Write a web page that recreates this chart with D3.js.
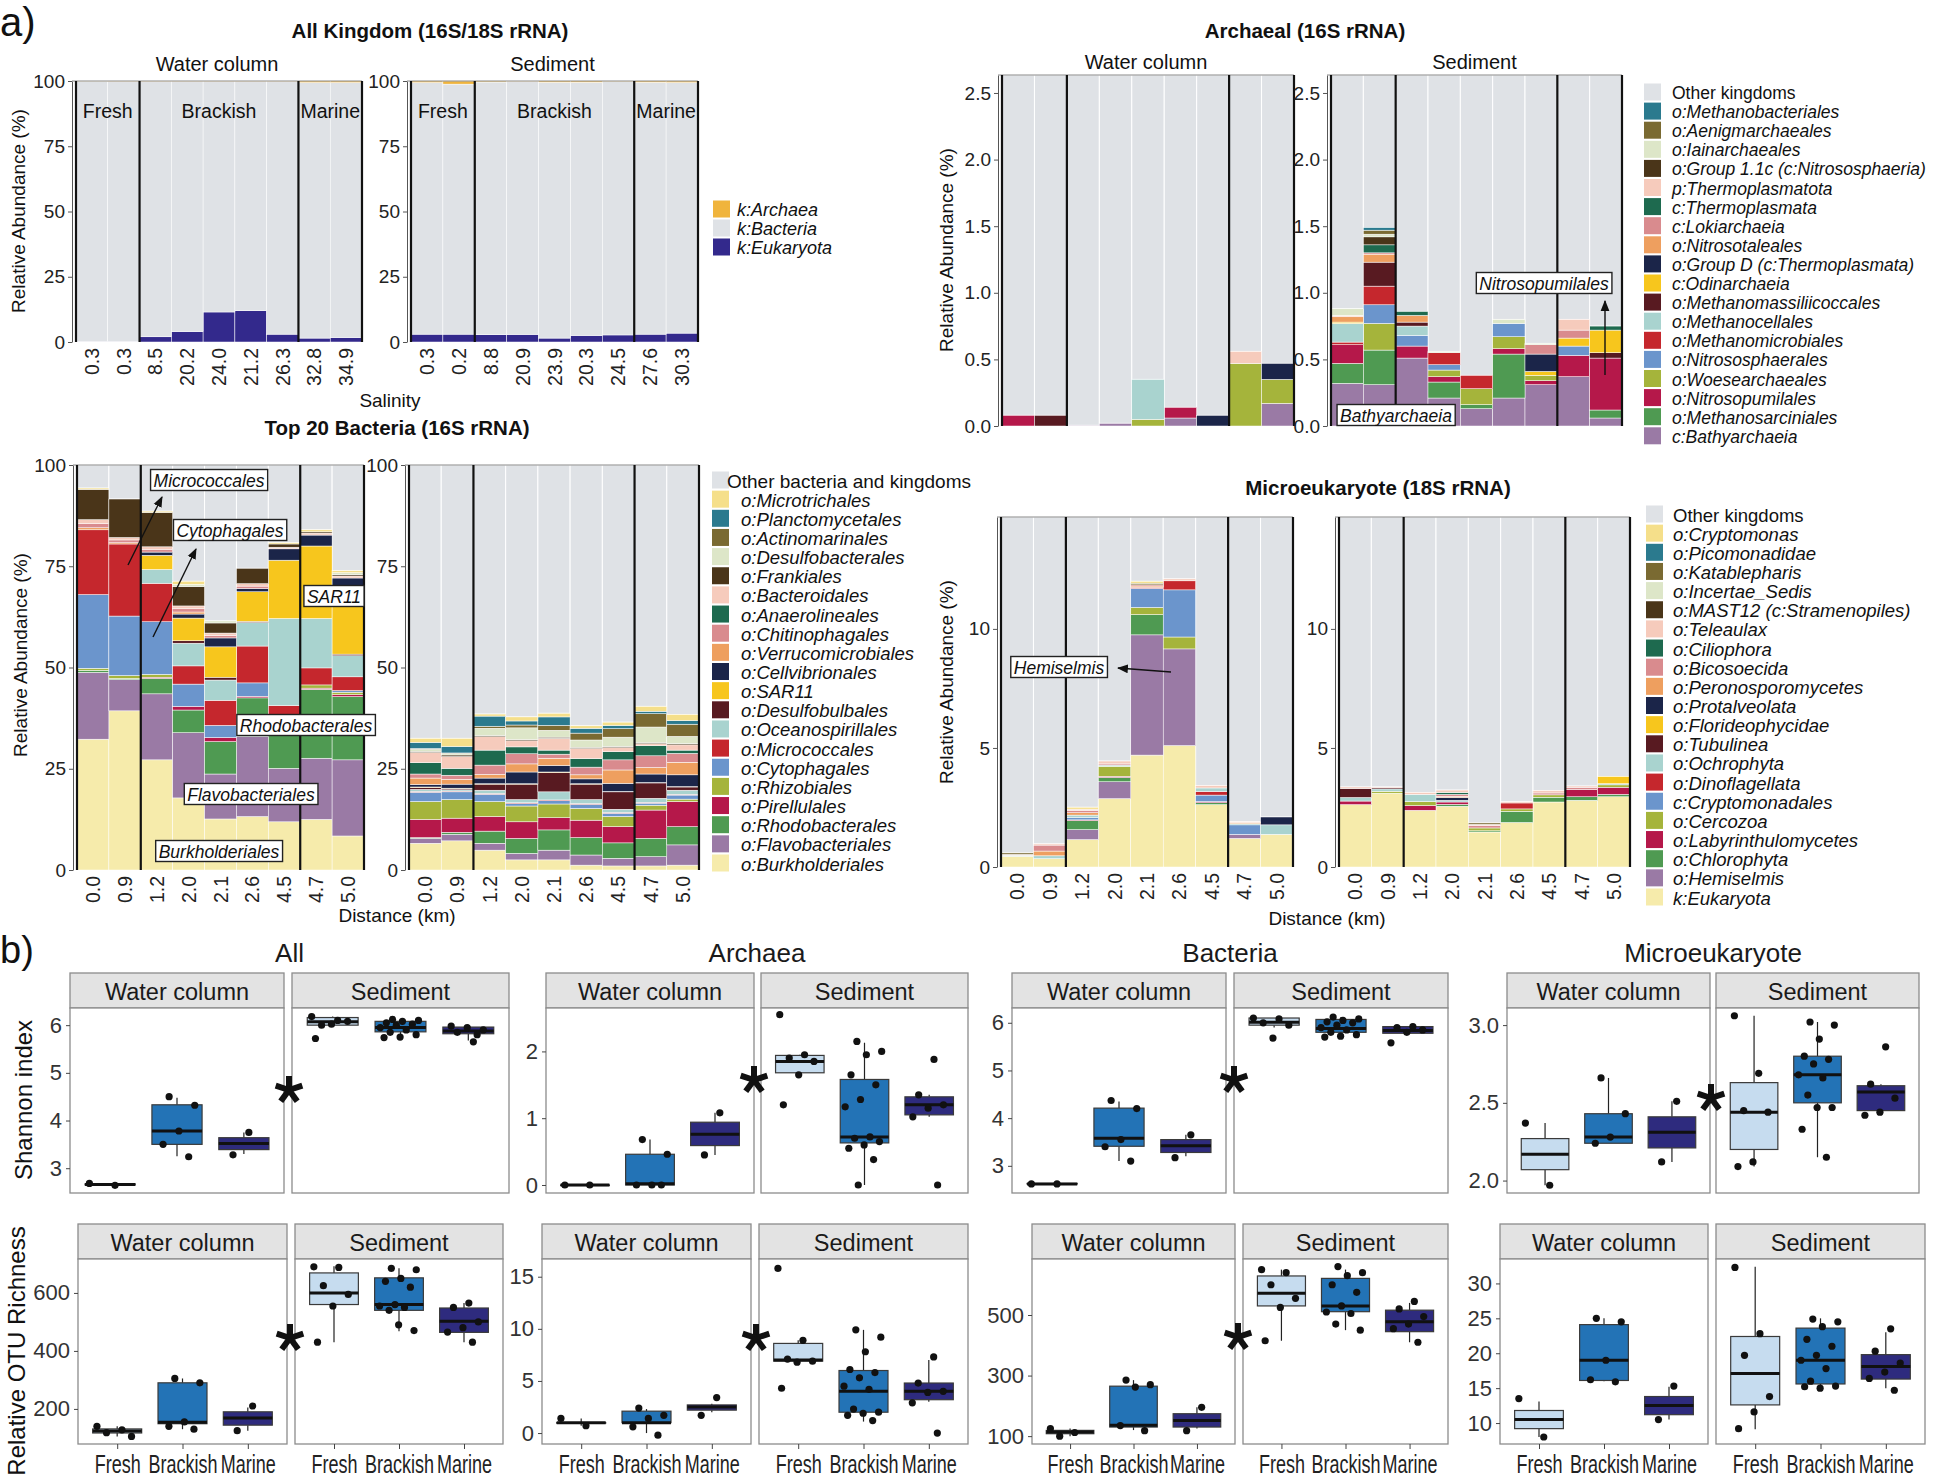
<!DOCTYPE html>
<html><head><meta charset="utf-8">
<script src="https://cdn.jsdelivr.net/npm/d3@7"></script>
<style>
body{margin:0;background:#fff;}
svg{display:block;font-family:"Liberation Sans",Arial,Helvetica,sans-serif;}
</style></head>
<body>
<svg id="chart" width="1946" height="1484"></svg>
<script>
// ================= DATA =================
const salinityWater = ["0.3","0.3","8.5","20.2","24.0","21.2","26.3","32.8","34.9"];
const salinitySediment = ["0.3","0.2","8.8","20.9","23.9","20.3","24.5","27.6","30.3"];
const distanceLabels = ["0.0","0.9","1.2","2.0","2.1","2.6","4.5","4.7","5.0"];
const salinityGroups = ["Fresh","Brackish","Marine"];
const groupBreaks = [0,2,7,9];

// --- All kingdom (rows = taxa in legend order, cols = samples) ---
const kingdomTaxa = ["k:Archaea","k:Bacteria","k:Eukaryota"];
const kingdomColors = ["#f0b43c","#dfe2e6","#33298c"];
const kingdomWater = [
  [0.1,0.3,0.3,0.3,0.3,0.3,0.3,0.6,0.6],
  [99.7,99.5,97.7,95.7,88.2,87.7,96.7,97.9,97.7],
  [0.2,0.2,2.0,4.0,11.5,12.0,3.0,1.5,1.7]
];
const kingdomSediment = [
  [0.6,1.2,0.4,0.3,0.5,0.5,0.2,0.5,0.6],
  [96.4,95.8,96.8,96.8,98.0,97.0,97.1,96.5,96.0],
  [3.0,3.0,2.8,2.9,1.5,2.5,2.7,3.0,3.4]
];

// --- Archaeal (16S) ---
const archaeaTaxa = ["o:Methanobacteriales","o:Aenigmarchaeales","o:Iainarchaeales","o:Group 1.1c (c:Nitrososphaeria)","p:Thermoplasmatota","c:Thermoplasmata","c:Lokiarchaeia","o:Nitrosotaleales","o:Group D (c:Thermoplasmata)","c:Odinarchaeia","o:Methanomassiliicoccales","o:Methanocellales","o:Methanomicrobiales","o:Nitrososphaerales","o:Woesearchaeales","o:Nitrosopumilales","o:Methanosarciniales","c:Bathyarchaeia"];
const archaeaColors = ["#2b7a8e","#7a6a32","#dde6c8","#4a3519","#f6cbbc","#1e6a4f","#d98b8e","#ee9f5f","#1b2549","#f7c61d","#581a21","#a9d3cf","#c5272d","#6b95cc","#a5b43b","#b5184a","#4f9a52","#9a7aa5"];
const archaeaWater = [
  [0,0,0,0,0,0,0,0,0],
  [0,0,0,0,0,0,0,0,0],
  [0,0,0,0,0,0,0,0,0],
  [0,0,0,0,0,0,0,0,0],
  [0,0,0,0,0,0,0,0.09,0],
  [0,0,0,0,0,0,0,0,0],
  [0,0,0,0,0,0,0,0,0],
  [0,0,0,0,0,0,0,0,0],
  [0,0,0,0,0,0,0.08,0,0.12],
  [0,0,0,0,0,0,0,0,0],
  [0,0.08,0,0,0,0,0,0,0],
  [0,0,0,0,0.30,0,0,0,0],
  [0,0,0,0,0,0,0,0,0],
  [0,0,0,0,0,0,0,0,0],
  [0,0,0,0,0.05,0,0,0.47,0.18],
  [0.08,0,0,0,0,0.08,0,0,0],
  [0,0,0,0,0,0,0,0,0],
  [0,0,0.005,0.02,0,0.06,0,0,0.17]
];
const archaeaSediment = [
  [0,0.02,0,0,0,0,0,0,0],
  [0,0.03,0,0,0,0,0,0,0],
  [0.05,0.02,0,0.01,0,0.03,0.01,0,0],
  [0,0.06,0,0,0,0,0,0,0],
  [0.01,0,0,0,0,0,0,0.08,0],
  [0,0.06,0.03,0,0,0,0,0,0.03],
  [0,0.01,0,0,0,0,0.07,0.06,0],
  [0.04,0.06,0.05,0,0,0,0,0,0],
  [0,0,0,0,0,0,0.13,0,0],
  [0.01,0,0,0,0,0,0.03,0.06,0.17],
  [0,0.18,0.03,0,0,0,0,0,0.04],
  [0.14,0,0.07,0,0,0,0,0,0],
  [0.02,0.14,0,0.09,0.10,0,0,0,0],
  [0,0.14,0.08,0.04,0,0.10,0,0.07,0],
  [0,0.20,0,0.05,0.12,0.09,0.04,0,0],
  [0.14,0,0.09,0.04,0,0.04,0.03,0.16,0.39],
  [0.15,0.26,0,0.12,0.03,0.33,0,0,0.06],
  [0.32,0.31,0.51,0.21,0.13,0.21,0.31,0.37,0.06]
];

// --- Top 20 bacteria (16S) ---
const bacteriaTaxa = ["o:Microtrichales","o:Planctomycetales","o:Actinomarinales","o:Desulfobacterales","o:Frankiales","o:Bacteroidales","o:Anaerolineales","o:Chitinophagales","o:Verrucomicrobiales","o:Cellvibrionales","o:SAR11","o:Desulfobulbales","o:Oceanospirillales","o:Micrococcales","o:Cytophagales","o:Rhizobiales","o:Pirellulales","o:Rhodobacterales","o:Flavobacteriales","o:Burkholderiales"];
const bacteriaColors = ["#f5df8a","#2b7a8e","#7a6a32","#dde6c8","#4a3519","#f6cbbc","#1e6a4f","#d98b8e","#ee9f5f","#1b2549","#f7c61d","#581a21","#a9d3cf","#c5272d","#6b95cc","#a5b43b","#b5184a","#4f9a52","#9a7aa5","#f6ebab"];
const bacteriaWater = [
  [0.3,0,0.3,0.8,0,0,0.3,0.5,0.5],
  [0,0,0,0,0,0,0,0,0],
  [0,0,0,0,0,0,0,0,0],
  [0,0,0,0.5,0.5,0,0,0,0.5],
  [7.5,9.5,8.5,4.8,2.5,3.8,0.8,0.3,0.3],
  [1.0,0.6,0.6,0.7,0.6,0.6,0.4,0.5,0.5],
  [0,0,0,0,0,0,0,0,0],
  [1.0,0.7,0.7,0.8,0.6,0.6,0,0,0],
  [0.5,0.3,0,0.5,0,0,0,0,0],
  [0,0,0.8,1.0,2.2,0.8,2.8,2.7,1.8],
  [0,0,3.5,5.6,7.5,7.3,14.4,17.9,17.0],
  [0,0,0,0.6,0.7,0.3,0,0,0.4],
  [0,0,3.4,5.6,5.0,5.8,21.5,12.2,5.2],
  [16.0,17.8,9.5,4.5,6.2,9.1,2.4,4.2,3.4],
  [18.2,14.7,13.0,5.5,3.0,3.3,0,0,0.4],
  [0.5,0.7,0.7,0,0,0,0,0.8,0.6],
  [0,0,0.3,0.9,1.0,0.4,0,0.3,0.5],
  [0.5,0.3,3.8,5.6,8.0,9.5,13.1,17.0,15.6],
  [16.5,7.7,16.3,16.1,11.1,19.8,13.2,15.1,18.8],
  [32.3,39.3,27.2,17.8,12.6,13.2,11.9,12.5,8.4]
];
const bacteriaSediment = [
  [1.0,2.0,0.5,1.0,0.9,0.6,0.8,1.2,1.5],
  [1.5,1.6,2.5,1.0,2.1,1.2,0.8,0.6,0.9],
  [0.2,0.2,0.5,0.7,1.2,1.7,2.1,3.3,3.0],
  [0.5,0.3,1.8,2.9,1.7,1.8,2.3,3.8,1.8],
  [0.3,0.4,0.3,0.3,0.3,0.3,0.3,0.3,0.3],
  [2.5,2.9,3.3,1.5,2.9,2.5,1.0,0.5,1.3],
  [2.8,1.7,3.7,1.7,1.0,2.1,2.0,2.5,0.8],
  [1.0,1.0,2.3,2.5,1.0,1.9,2.5,2.9,2.2],
  [1.6,1.2,0.9,2.0,1.8,1.0,3.3,1.6,3.1],
  [0.6,1.0,1.4,2.9,1.6,1.2,2.0,2.1,2.9],
  [0.1,0.1,0.1,0.1,0.1,0.1,0.1,0.1,0.1],
  [0.5,0.3,1.5,3.8,4.8,3.8,4.3,3.8,0.8],
  [0.5,0.3,0.8,0.8,2.0,1.0,0.8,1.0,1.0],
  [0.2,0.2,0.2,0.2,0.2,0.2,0.2,0.2,0.2],
  [2.3,1.9,1.8,0.6,0.8,1.0,0.8,0.5,1.0],
  [4.4,4.6,3.7,3.9,3.4,2.9,2.5,1.2,0.6],
  [4.5,3.5,3.6,4.1,3.0,4.3,4.0,7.0,6.2],
  [0.2,0.5,3.0,3.7,5.0,4.3,3.8,4.5,4.5],
  [1.2,1.6,1.7,1.6,2.4,2.5,1.9,2.3,5.0],
  [6.6,7.2,4.9,2.5,2.5,1.2,1.0,1.0,1.2]
];

// --- Microeukaryote (18S) ---
const microTaxa = ["o:Cryptomonas","o:Picomonadidae","o:Katablepharis","o:Incertae_Sedis","o:MAST12 (c:Stramenopiles)","o:Teleaulax","o:Ciliophora","o:Bicosoecida","o:Peronosporomycetes","o:Protalveolata","o:Florideophycidae","o:Tubulinea","o:Ochrophyta","o:Dinoflagellata","c:Cryptomonadales","o:Cercozoa","o:Labyrinthulomycetes","o:Chlorophyta","o:Hemiselmis","k:Eukaryota"];
const microColors = bacteriaColors.slice();
const microWater = [
  [0,0,0.08,0,0.08,0,0,0,0],
  [0,0,0,0,0,0,0,0,0],
  [0.06,0,0,0,0.07,0,0,0,0],
  [0,0,0,0,0,0,0,0,0],
  [0,0,0,0,0,0,0,0,0],
  [0.04,0.05,0.05,0.12,0,0.08,0.1,0.03,0],
  [0,0,0,0,0,0,0,0,0],
  [0,0.25,0.1,0.05,0.05,0,0,0,0],
  [0,0.2,0.1,0,0.05,0,0,0.05,0],
  [0,0,0,0,0,0,0,0,0.33],
  [0,0,0,0,0,0,0,0,0],
  [0,0,0,0,0,0,0,0,0],
  [0.04,0.12,0.1,0.05,0,0,0.15,0.05,0.4],
  [0,0,0,0,0.05,0.38,0.15,0,0],
  [0,0,0.1,0,0.8,1.98,0.27,0.4,0],
  [0,0,0,0.42,0.3,0.5,0,0,0],
  [0,0,0.03,0.05,0,0,0.05,0,0],
  [0,0,0.38,0.18,0.85,0,0.08,0,0],
  [0,0,0.42,0.71,5.05,4.06,0,0.17,0],
  [0.45,0.35,1.15,2.87,4.7,5.1,2.62,1.2,1.37]
];
const microSediment = [
  [0,0,0,0,0,0,0,0,0],
  [0,0,0,0,0,0,0,0,0],
  [0,0,0,0,0.06,0,0,0,0],
  [0,0,0,0,0,0,0,0,0],
  [0,0,0,0,0,0,0,0,0],
  [0.06,0.03,0.08,0.1,0.05,0.05,0.1,0.05,0],
  [0,0,0,0.08,0,0,0,0,0],
  [0,0,0,0.08,0.1,0,0.08,0.1,0],
  [0,0,0,0.05,0,0,0,0,0],
  [0,0,0,0.12,0,0,0,0,0],
  [0,0,0,0,0,0,0,0,0.3],
  [0.38,0.05,0,0,0,0,0,0,0],
  [0.15,0.1,0.3,0.07,0,0,0,0,0.05],
  [0,0,0,0,0,0.25,0,0,0],
  [0,0,0,0,0,0,0,0,0],
  [0,0.08,0.17,0,0.12,0.1,0.1,0,0.1],
  [0.15,0,0.2,0.1,0,0,0,0.3,0.3],
  [0,0,0,0.08,0.05,0.47,0.2,0.15,0.1],
  [0,0,0,0,0,0,0,0,0],
  [2.62,3.1,2.38,2.55,1.47,1.87,2.73,2.8,2.95]
];
const otherColor = "#dfe2e6";

// --- Panel b: boxplot stats [lower whisker, q1, median, q3, upper whisker] per Fresh/Brackish/Marine ---
const shannonAllWater = [[2.64,2.65,2.66,2.67,2.68],[3.25,3.5,3.78,4.33,4.48],[3.3,3.39,3.52,3.64,3.75]];
const shannonAllWaterPts = [[2.68,2.64],[4.5,4.32,3.78,3.5,3.24],[3.75,3.28]];
const shannonAllSed = [[6.0,6.0,6.07,6.16,6.18],[5.74,5.86,5.95,6.08,6.12],[5.68,5.82,5.88,5.96,6.0]];
const shannonAllSedPts = [[6.18,6.1,6.0,6.08,6.02,5.72],[6.12,6.1,6.08,6.05,6.02,6.0,5.95,5.9,5.85,5.8,5.75,5.74],[5.65,5.85,5.9,5.95,5.98,5.8]];
const shannonArchWater = [[0,0,0,0,0],[0,0,0.02,0.46,0.68],[0.45,0.59,0.76,0.94,1.08]];
const shannonArchWaterPts = [[0,0],[0.68,0.46,0,0,0],[1.08,0.45]];
const shannonArchSed = [[1.65,1.68,1.85,1.94,1.95],[0,0.63,0.72,1.58,2.13],[1.02,1.05,1.2,1.32,1.35]];
const shannonArchSedPts = [[2.55,1.95,1.9,1.85,1.65,1.2],[2.15,2.0,1.95,1.65,1.5,1.28,1.17,0.72,0.7,0.65,0.6,0.55,0.38,0],[1.88,1.35,1.2,1.15,1.02,0]];
const shannonBactWater = [[2.61,2.62,2.62,2.63,2.63],[3.1,3.41,3.58,4.21,4.35],[3.2,3.28,3.42,3.55,3.65]];
const shannonBactWaterPts = [[2.62,2.62],[4.37,4.2,3.55,3.4,3.1],[3.65,3.17]];
const shannonBactSed = [[5.9,5.95,6.01,6.1,6.1],[5.7,5.8,5.88,6.07,6.12],[5.78,5.78,5.84,5.92,5.92]];
const shannonBactSedPts = [[6.1,6.08,6.0,5.95,5.68],[6.12,6.08,6.05,6.02,6.0,5.95,5.9,5.85,5.8,5.75,5.72,5.7],[5.92,5.9,5.85,5.8,5.58]];
const shannonEukWater = [[1.97,2.07,2.17,2.27,2.37],[2.24,2.24,2.28,2.43,2.66],[2.12,2.21,2.31,2.41,2.51]];
const shannonEukWaterPts = [[2.37,1.97],[2.66,2.43,2.28,2.24],[2.51,2.12]];
const shannonEukSed = [[2.09,2.2,2.44,2.63,3.06],[2.15,2.5,2.68,2.8,3.02],[2.42,2.45,2.57,2.61,2.62]];
const shannonEukSedPts = [[3.06,2.69,2.45,2.44,2.12,2.09],[3.02,3.0,2.91,2.8,2.78,2.75,2.68,2.66,2.55,2.47,2.47,2.33,2.15],[2.86,2.62,2.53,2.44,2.42]];

const otuAllWater = [[105,117,124,131,140],[130,149,154,290,305],[125,144,169,190,205]];
const otuAllWaterPts = [[140,128,118,105],[305,290,155,140,130],[210,125]];
const otuAllSed = [[430,560,600,669,692],[468,540,560,652,685],[430,464,502,548,565]];
const otuAllSedPts = [[690,688,625,595,555,430],[685,680,650,640,620,560,555,550,540,470,490],[565,550,500,480,465,430]];
const otuArchWater = [[0.7,1.0,1.0,1.0,1.4],[0,1.0,1.0,2.1,2.3],[2.0,2.2,2.5,2.7,2.8]];
const otuArchWaterPts = [[1.4,0.7],[2.4,1.7,1.4,0.6,-0.2],[3.4,1.7]];
const otuArchSed = [[6.8,6.9,7.0,8.6,8.9],[1.1,2.0,4.0,6.0,9.9],[3.0,3.2,4.0,4.8,7.0]];
const otuArchSedPts = [[15.8,8.9,7.1,6.9,6.8,4.3],[9.9,9.2,7.8,6.1,5.8,5.3,4.5,4.2,2.3,2.0,1.9,1.7,1.2],[7.3,4.8,4.0,3.9,2.9,0]];
const otuBactWater = [[100,108,114,119,125],[120,130,136,265,285],[125,130,152,174,195]];
const otuBactWaterPts = [[125,112,100],[285,270,262,135,118],[195,118]];
const otuBactSed = [[415,530,572,629,650],[450,511,530,621,650],[410,445,478,516,540]];
const otuBactSedPts = [[650,640,600,555,525,415],[660,640,630,600,575,530,510,505,470,450],[545,520,495,470,455,410]];
const otuEukWater = [[8.0,9.2,10.5,11.8,13.1],[16,16.1,19.0,24.1,25],[10.5,11.2,12.5,13.8,15.2]];
const otuEukWaterPts = [[13.5,8.0],[25,24.5,19,16.2,15.9],[15.3,10.5]];
const otuEukSed = [[9.1,12.6,17.1,22.4,32.4],[15,15.6,19.0,23.6,25],[15,16.3,18.1,19.8,23.0]];
const otuEukSedPts = [[32.3,22.8,19.7,13.8,11.6,9.2],[24.9,24.5,23.8,22,21,19.7,19,17.8,16,15.3,15,15.2],[23.5,20.3,18.6,17.3,16.4,14.7]];

const boxFills = ["#c6dcef","#2373b6","#2e2b7e"];

// ================= DRAWING =================
const svg = d3.select("#chart");
svg.append("rect").attr("width",1946).attr("height",1484).attr("fill","#fff");
const defs = svg.append("defs");
defs.append("marker").attr("id","arr").attr("viewBox","0 0 10 10").attr("refX",9).attr("refY",5)
  .attr("markerUnits","userSpaceOnUse").attr("markerWidth",11).attr("markerHeight",11).attr("orient","auto")
  .append("path").attr("d","M0,1 L10,5 L0,9 z").attr("fill","#111");

function txt(x, y, s, o = {}) {
  const t = svg.append("text").attr("x", x).attr("y", y).text(s)
    .attr("font-size", o.size || 18).attr("fill", o.fill || "#111")
    .attr("text-anchor", o.anchor || "start");
  if (o.bold) t.attr("font-weight", "bold");
  if (o.italic) t.attr("font-style", "italic");
  if (o.rotate) t.attr("transform", `rotate(${o.rotate},${x},${y})`);
  if (o.baseline) t.attr("dominant-baseline", o.baseline);
  return t;
}

function drawStack(p) {
  const g = svg.append("g");
  const n = p.labels.length;
  const x = d3.scaleBand().domain(d3.range(n)).range([p.x0, p.x1]).padding(0);
  const y = d3.scaleLinear().domain([0, p.yMax]).range([p.yBottom, p.yTop]);
  const keys = d3.range(p.taxa.length).reverse();
  const rows = d3.range(n).map(j => { const o = {}; keys.forEach(i => o[i] = p.values[i][j]); return o; });
  const series = d3.stack().keys(keys)(rows);
  const topS = series[series.length - 1];
  if (p.otherColor) {
    g.append("g").selectAll("rect").data(topS).join("rect")
      .attr("x", (d, j) => x(j)).attr("width", x.bandwidth())
      .attr("y", y(p.yMax)).attr("height", d => Math.max(0, y(d[1]) - y(p.yMax)))
      .attr("fill", p.otherColor).attr("stroke", "#fff").attr("stroke-width", 1);
  }
  series.forEach(s => {
    const col = p.colors[s.key];
    const segs = s.map((d, j) => ({ a: d[0], b: d[1], j })).filter(d => d.b > d.a);
    g.append("g").selectAll("rect").data(segs).join("rect")
      .attr("x", d => x(d.j)).attr("width", x.bandwidth())
      .attr("y", d => y(d.b)).attr("height", d => y(d.a) - y(d.b))
      .attr("fill", col).attr("stroke", "#fff").attr("stroke-width", 0.5);
  });
  const ax = g.append("g").attr("transform", `translate(${p.x0 - 4},0)`)
    .call(d3.axisLeft(y).tickValues(p.ticks).tickFormat(p.fmt).tickSize(4).tickPadding(3).tickSizeOuter(0));
  ax.selectAll("path,line").attr("stroke", "#555");
  ax.selectAll("text").attr("font-size", 19).attr("fill", "#222").attr("font-family", null);
  g.append("line").attr("x1", p.x0 - 4).attr("x2", p.x1).attr("y1", y(p.yMax)).attr("y2", y(p.yMax))
    .attr("stroke", "#888").attr("stroke-width", 1);
  g.append("g").selectAll("line").data(groupBreaks).join("line")
    .attr("x1", k => p.x0 + k * x.step()).attr("x2", k => p.x0 + k * x.step())
    .attr("y1", y(0)).attr("y2", y(p.yMax)).attr("stroke", "#111").attr("stroke-width", 2.2);
  if (p.showXLabels !== false) {
    g.append("g").selectAll("text").data(p.labels).join("text")
      .attr("transform", (d, j) => `translate(${x(j) + x.bandwidth() / 2 + 7},${p.yBottom + 6}) rotate(-90)`)
      .attr("text-anchor", "end").attr("font-size", 19.5).attr("fill", "#222").text(d => d);
  }
  if (p.facet) txt((p.x0 + p.x1) / 2 - 2, p.facetY, p.facet, { size: 20, anchor: "middle" });
  if (p.groupLabelY) {
    salinityGroups.forEach((gname, k) => {
      const cx = p.x0 + (groupBreaks[k] + groupBreaks[k + 1]) / 2 * x.step();
      txt(cx, p.groupLabelY, gname, { size: 19.5, anchor: "middle" });
    });
  }
  return { x, y };
}

function legend(x, y0, step, labels, colors, o = {}) {
  labels.forEach((l, i) => {
    const cy = y0 + i * step;
    svg.append("rect").attr("x", x).attr("y", cy - 8.5).attr("width", 17).attr("height", 17).attr("fill", colors[i]);
    const isOther = l.startsWith("Other");
    const tx = (isOther && o.otherX !== undefined) ? o.otherX : x + (o.gap || 28);
    txt(tx, cy + 1, l, { size: isOther && o.otherSize ? o.otherSize : (o.size || 18), italic: !isOther, baseline: "central", fill: "#111" });
  });
}

function annot(cx, cy, label, size = 17.5) {
  const t = txt(cx, cy + 1, label, { size, italic: true, anchor: "middle", baseline: "central" });
  const bb = t.node().getBBox();
  svg.insert("rect", () => t.node()).attr("x", bb.x - 3).attr("y", cy - 10.5).attr("width", bb.width + 6).attr("height", 21)
    .attr("fill", "#fff").attr("stroke", "#222").attr("stroke-width", 1.4);
}
function arrow(x1, y1, x2, y2) {
  svg.append("line").attr("x1", x1).attr("y1", y1).attr("x2", x2).attr("y2", y2)
    .attr("stroke", "#111").attr("stroke-width", 1.4).attr("marker-end", "url(#arr)");
}

// ---------- part a ----------
txt(0, 36, "a)", { size: 40 });
txt(430, 38, "All Kingdom (16S/18S rRNA)", { size: 20.5, bold: true, anchor: "middle" });
txt(1305, 38, "Archaeal (16S rRNA)", { size: 20.5, bold: true, anchor: "middle" });
txt(397, 435, "Top 20 Bacteria (16S rRNA)", { size: 20.5, bold: true, anchor: "middle" });
txt(1378, 495, "Microeukaryote (18S rRNA)", { size: 20.5, bold: true, anchor: "middle" });

const pct = d3.format("d"), one = d3.format(".1f");
drawStack({ x0: 76, x1: 362, yBottom: 342, yTop: 81, yMax: 100, labels: salinityWater, taxa: kingdomTaxa, values: kingdomWater, colors: kingdomColors, ticks: [0,25,50,75,100], fmt: pct, facet: "Water column", facetY: 71, groupLabelY: 118 });
drawStack({ x0: 411, x1: 698, yBottom: 342, yTop: 81, yMax: 100, labels: salinitySediment, taxa: kingdomTaxa, values: kingdomSediment, colors: kingdomColors, ticks: [0,25,50,75,100], fmt: pct, facet: "Sediment", facetY: 71, groupLabelY: 118 });
txt(390, 407, "Salinity", { size: 19, anchor: "middle" });
txt(25, 211, "Relative Abundance (%)", { size: 19, anchor: "middle", rotate: -90 });
legend(713, 209, 19, kingdomTaxa, kingdomColors, { gap: 24, size: 18 });

drawStack({ x0: 1002, x1: 1294, yBottom: 426, yTop: 75, yMax: 2.635, labels: distanceLabels, taxa: archaeaTaxa, values: archaeaWater, colors: archaeaColors, otherColor, ticks: [0,0.5,1,1.5,2,2.5], fmt: one, facet: "Water column", facetY: 69, showXLabels: false });
drawStack({ x0: 1331, x1: 1622, yBottom: 426, yTop: 75, yMax: 2.635, labels: distanceLabels, taxa: archaeaTaxa, values: archaeaSediment, colors: archaeaColors, otherColor, ticks: [0,0.5,1,1.5,2,2.5], fmt: one, facet: "Sediment", facetY: 69, showXLabels: false });
txt(953, 250, "Relative Abundance (%)", { size: 19, anchor: "middle", rotate: -90 });
legend(1644, 92, 19.1, ["Other kingdoms"].concat(archaeaTaxa), [otherColor].concat(archaeaColors), { size: 17.5 });
annot(1396, 415, "Bathyarchaeia");
annot(1544, 283, "Nitrosopumilales");
arrow(1605, 375, 1605, 301);

drawStack({ x0: 77, x1: 364, yBottom: 870, yTop: 465, yMax: 100, labels: distanceLabels, taxa: bacteriaTaxa, values: bacteriaWater, colors: bacteriaColors, otherColor, ticks: [0,25,50,75,100], fmt: pct });
drawStack({ x0: 409, x1: 699, yBottom: 870, yTop: 465, yMax: 100, labels: distanceLabels, taxa: bacteriaTaxa, values: bacteriaSediment, colors: bacteriaColors, otherColor, ticks: [0,25,50,75,100], fmt: pct });
txt(397, 922, "Distance (km)", { size: 19, anchor: "middle" });
txt(27, 655, "Relative Abundance (%)", { size: 19, anchor: "middle", rotate: -90 });
legend(712, 480, 19.15, ["Other bacteria and kingdoms"].concat(bacteriaTaxa), [otherColor].concat(bacteriaColors), { size: 18.5, gap: 29, otherX: 727, otherSize: 19 });
annot(209, 480, "Micrococcales");
annot(230, 530, "Cytophagales");
annot(334, 596, "SAR11");
annot(306, 725, "Rhodobacterales");
annot(251, 794, "Flavobacteriales");
annot(219, 851, "Burkholderiales");
arrow(128, 565, 162, 497);
arrow(153, 637, 196, 549);

drawStack({ x0: 1001, x1: 1293, yBottom: 867, yTop: 517, yMax: 14.7, labels: distanceLabels, taxa: microTaxa, values: microWater, colors: microColors, otherColor, ticks: [0,5,10], fmt: pct });
drawStack({ x0: 1339, x1: 1630, yBottom: 867, yTop: 517, yMax: 14.7, labels: distanceLabels, taxa: microTaxa, values: microSediment, colors: microColors, otherColor, ticks: [0,5,10], fmt: pct });
txt(1327, 925, "Distance (km)", { size: 19, anchor: "middle" });
txt(953, 682, "Relative Abundance (%)", { size: 19, anchor: "middle", rotate: -90 });
legend(1646, 514, 19.15, ["Other kingdoms"].concat(microTaxa), [otherColor].concat(microColors), { size: 18.5, gap: 27 });
annot(1059, 667, "Hemiselmis");
arrow(1171, 672, 1118, 668);

// ---------- part b ----------
txt(0, 963, "b)", { size: 38 });

function drawBoxFacet(f) {
  const g = svg.append("g");
  g.append("rect").attr("x", f.x0).attr("y", f.stripTop).attr("width", f.x1 - f.x0).attr("height", f.top - f.stripTop)
    .attr("fill", "#e3e3e3").attr("stroke", "#8c8c8c").attr("stroke-width", 1.3);
  txt((f.x0 + f.x1) / 2, (f.stripTop + f.top) / 2 + 1, f.label, { size: 23.5, anchor: "middle", baseline: "central", fill: "#1a1a1a" });
  g.append("rect").attr("x", f.x0).attr("y", f.top).attr("width", f.x1 - f.x0).attr("height", f.bottom - f.top)
    .attr("fill", "#fff").attr("stroke", "#8c8c8c").attr("stroke-width", 1.3);
  const xs = d3.scalePoint().domain(salinityGroups).range([f.x0, f.x1]).padding(0.6);
  const y = d3.scaleLinear().domain(f.domain).range([f.bottom, f.top]);
  const bw = xs.step() * 0.75;
  const boxes = f.stats.map((s, k) => ({ s, k, cx: xs(salinityGroups[k]) }));
  const bg = g.append("g");
  bg.selectAll("line.wl").data(boxes).join("line").attr("x1", d => d.cx).attr("x2", d => d.cx)
    .attr("y1", d => y(d.s[0])).attr("y2", d => y(d.s[1])).attr("stroke", "#222").attr("stroke-width", 1.2);
  bg.selectAll("line.wh").data(boxes).join("line").attr("x1", d => d.cx).attr("x2", d => d.cx)
    .attr("y1", d => y(d.s[3])).attr("y2", d => y(d.s[4])).attr("stroke", "#222").attr("stroke-width", 1.2);
  bg.selectAll("rect").data(boxes).join("rect").attr("x", d => d.cx - bw / 2).attr("width", bw)
    .attr("y", d => y(d.s[3])).attr("height", d => Math.max(0.5, y(d.s[1]) - y(d.s[3])))
    .attr("fill", d => boxFills[d.k]).attr("stroke", "#3a3a3a").attr("stroke-width", 1.2);
  bg.selectAll("line.md").data(boxes).join("line").attr("x1", d => d.cx - bw / 2).attr("x2", d => d.cx + bw / 2)
    .attr("y1", d => y(d.s[2])).attr("y2", d => y(d.s[2])).attr("stroke", "#111").attr("stroke-width", 3);
  const pts = [];
  f.pts.forEach((arr, k) => arr.forEach((v, i) => {
    const jit = (((i * 0.618034 + k * 0.31) % 1) - 0.5) * xs.step() * 0.62;
    pts.push({ cx: xs(salinityGroups[k]) + jit, v });
  }));
  g.append("g").selectAll("circle").data(pts).join("circle").attr("cx", d => d.cx).attr("cy", d => y(d.v))
    .attr("r", 3.6).attr("fill", "#111");
  if (f.showY) {
    const ax = g.append("g").attr("transform", `translate(${f.x0},0)`)
      .call(d3.axisLeft(y).tickValues(f.ticks).tickFormat(f.fmt).tickSize(4).tickPadding(4).tickSizeOuter(0));
    ax.select(".domain").remove();
    ax.selectAll("line").attr("stroke", "#444");
    ax.selectAll("text").attr("font-size", 22).attr("fill", "#333").attr("font-family", null);
  }
  if (f.showX) {
    const ax = g.append("g").attr("transform", `translate(0,${f.bottom})`)
      .call(d3.axisBottom(xs).tickSize(5).tickPadding(6).tickSizeOuter(0));
    ax.select(".domain").remove();
    ax.selectAll("line").attr("stroke", "#444");
    ax.selectAll("text").attr("font-size", 25).attr("fill", "#222").attr("font-family", null)
      .attr("transform", "scale(0.72,1)");
  }
}

function star(cx, cy) {
  const r = 14;
  [90, 18, 162, -54, -126].forEach(a => {
    const rad = a * Math.PI / 180;
    svg.append("line").attr("x1", cx).attr("y1", cy).attr("x2", cx + r * Math.cos(rad)).attr("y2", cy - r * Math.sin(rad))
      .attr("stroke", "#111").attr("stroke-width", 6).attr("stroke-linecap", "butt");
  });
}

const boxRows = [
  { stripTop: 973, top: 1008, bottom: 1193, showX: false, groups: [
    { title: "All", W: [70,284], S: [292,509], domain: [2.48,6.36], ticks: [3,4,5,6], fmt: pct, sW: shannonAllWater, pW: shannonAllWaterPts, sS: shannonAllSed, pS: shannonAllSedPts, star: [289,1090] },
    { title: "Archaea", W: [546,754], S: [761,968], domain: [-0.12,2.65], ticks: [0,1,2], fmt: pct, sW: shannonArchWater, pW: shannonArchWaterPts, sS: shannonArchSed, pS: shannonArchSedPts, star: [754,1080] },
    { title: "Bacteria", W: [1012,1226], S: [1234,1448], domain: [2.43,6.31], ticks: [3,4,5,6], fmt: pct, sW: shannonBactWater, pW: shannonBactWaterPts, sS: shannonBactSed, pS: shannonBactSedPts, star: [1234,1080] },
    { title: "Microeukaryote", W: [1507,1710], S: [1716,1919], domain: [1.92,3.11], ticks: [2,2.5,3], fmt: one, sW: shannonEukWater, pW: shannonEukWaterPts, sS: shannonEukSed, pS: shannonEukSedPts, star: [1711,1098] }
  ]},
  { stripTop: 1224, top: 1259, bottom: 1444, showX: true, groups: [
    { W: [78,287], S: [295,503], domain: [79,717], ticks: [200,400,600], fmt: pct, sW: otuAllWater, pW: otuAllWaterPts, sS: otuAllSed, pS: otuAllSedPts, star: [290,1338] },
    { W: [542,751], S: [759,968], domain: [-1.05,16.7], ticks: [0,5,10,15], fmt: pct, sW: otuArchWater, pW: otuArchWaterPts, sS: otuArchSed, pS: otuArchSedPts, star: [756,1338] },
    { W: [1032,1235], S: [1243,1448], domain: [74,685], ticks: [100,300,500], fmt: pct, sW: otuBactWater, pW: otuBactWaterPts, sS: otuBactSed, pS: otuBactSedPts, star: [1238,1337] },
    { W: [1500,1708], S: [1716,1925], domain: [7.0,33.5], ticks: [10,15,20,25,30], fmt: pct, sW: otuEukWater, pW: otuEukWaterPts, sS: otuEukSed, pS: otuEukSedPts }
  ]}
];
boxRows.forEach(row => {
  row.groups.forEach(gr => {
    drawBoxFacet({ x0: gr.W[0], x1: gr.W[1], stripTop: row.stripTop, top: row.top, bottom: row.bottom, label: "Water column",
      domain: gr.domain, stats: gr.sW, pts: gr.pW, showY: true, ticks: gr.ticks, fmt: gr.fmt, showX: row.showX });
    drawBoxFacet({ x0: gr.S[0], x1: gr.S[1], stripTop: row.stripTop, top: row.top, bottom: row.bottom, label: "Sediment",
      domain: gr.domain, stats: gr.sS, pts: gr.pS, showY: false, showX: row.showX });
    if (gr.title) txt((gr.W[0] + gr.S[1]) / 2, 962, gr.title, { size: 26, anchor: "middle", fill: "#1a1a1a" });
    if (gr.star) star(gr.star[0], gr.star[1]);
  });
});
txt(23, 1100, "Shannon index", { size: 24, anchor: "middle", rotate: -90, baseline: "central" });
txt(16, 1351, "Relative OTU Richness", { size: 24, anchor: "middle", rotate: -90, baseline: "central" });
</script>
</body></html>
